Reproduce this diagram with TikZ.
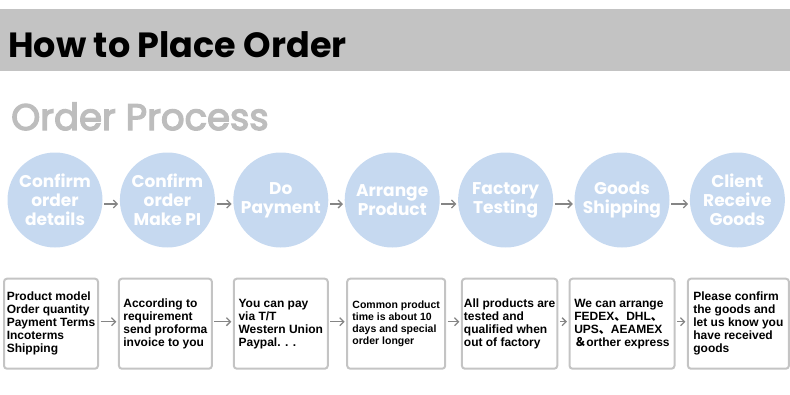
\documentclass[tikz,border=0pt]{standalone}
\usepackage{fontspec}
\setmainfont{Liberation Sans}
\newfontfamily\headfont{Poppins}
\newfontfamily\subfont[FakeBold=3.5]{Poppins}
\newfontfamily\cjk{Noto Sans CJK SC}
\usetikzlibrary{arrows.meta,positioning}
\definecolor{bandgray}{HTML}{C3C3C3}
\definecolor{stepblue}{HTML}{C6D9F0}
\definecolor{subgray}{HTML}{BDBDBD}
\definecolor{boxgray}{HTML}{C4C4C4}
\definecolor{arrgray}{HTML}{858585}

\begin{document}
\begin{tikzpicture}[
  x=1pt, y=-1pt,
  font=\bfseries\fontsize{12}{13}\selectfont,
  stepc/.style={circle, fill=stepblue, minimum size=95pt, inner sep=0pt, align=center, text=white, font=\headfont\bfseries\fontsize{17}{19}\selectfont},
  box/.style={draw=boxgray, line width=2pt, rounded corners=3pt, align=left, minimum height=90pt, inner sep=2pt},
  arr/.style={-{Straight Barb[length=4pt, width=8pt]}, arrgray, line width=1.3pt, shorten <=1.5pt, shorten >=1.5pt}
]
\useasboundingbox (0,0) rectangle (790,394);

% --- Header ---
\fill[bandgray] (0,9) rectangle (790,71);
\node[anchor=base west, inner sep=0pt, font=\headfont\bfseries\fontsize{35}{40}\selectfont] (title) at (8,57) {How to Place Order};
\node[anchor=base west, inner sep=0pt, text=subgray, font=\subfont\fontsize{37}{40}\selectfont] (sub) at (11,130) {Order Process};

% --- Steps ---
\node[stepc] (c1) at (55,200) {Confirm\\order\\details};
\node[stepc, right=17pt of c1] (c2) {Confirm\\order\\Make PI};
\node[stepc, right=18pt of c2] (c3) {Do\\Payment};
\node[stepc, right=16pt of c3] (c4) {Arrange\\Product};
\node[stepc, right=18pt of c4] (c5) {Factory\\Testing};
\node[stepc, right=21pt of c5] (c6) {Goods\\Shipping};
\node[stepc, right=20pt of c6] (c7) {Client\\Receive\\Goods};

\draw[arr] ([yshift=-4pt]c1.east) -- ([yshift=-4pt]c2.west);
\draw[arr] ([yshift=-4pt]c2.east) -- ([yshift=-4pt]c3.west);
\draw[arr] ([yshift=-4pt]c3.east) -- ([yshift=-4pt]c4.west);
\draw[arr] ([yshift=-4pt]c4.east) -- ([yshift=-4pt]c5.west);
\draw[arr] ([yshift=-4pt]c5.east) -- ([yshift=-4pt]c6.west);
\draw[arr] ([yshift=-4pt]c6.east) -- ([yshift=-4pt]c7.west);

% --- Details ---
\node[box, minimum width=94pt, below=30pt of c1, xshift=-4pt] (b1) {Product model\\Order quantity\\Payment Terms\\Incoterms\\Shipping};
\node[box, minimum width=93pt, below=30pt of c2, xshift=-2pt] (b2) {According to\\requirement\\send proforma\\invoice to you};
\node[box, minimum width=94pt, below=30pt of c3] (b3) {You can pay\\via T/T\\Western Union\\Paypal. . .};
\node[box, minimum width=98pt, below=30pt of c4, xshift=4pt, font=\bfseries\fontsize{10.5}{12}\selectfont] (b4) {Common product\\time is about 10\\days and special\\order longer};
\node[box, minimum width=94pt, below=30pt of c5, xshift=4pt] (b5) {All products are\\tested and\\qualified when\\out of factory};
\node[box, minimum width=105pt, below=30pt of c6] (b6) {We can arrange\\FEDEX{\cjk 、}DHL{\cjk 、}\\UPS{\cjk 、}AEAMEX\\{\cjk ＆}orther express};
\node[box, minimum width=101pt, below=30pt of c7, xshift=1pt] (b7) {Please confirm\\the goods and\\let us know you\\have received\\goods};

\draw[arr] ([yshift=2pt]b1.east) -- ([yshift=2pt]b2.west);
\draw[arr] ([yshift=2pt]b2.east) -- ([yshift=2pt]b3.west);
\draw[arr] ([yshift=2pt]b3.east) -- ([yshift=2pt]b4.west);
\draw[arr] ([yshift=2pt]b4.east) -- ([yshift=2pt]b5.west);
\draw[arr] ([yshift=2pt]b5.east) -- ([yshift=2pt]b6.west);
\draw[arr] ([yshift=2pt]b6.east) -- ([yshift=2pt]b7.west);

\end{tikzpicture}
\end{document}
